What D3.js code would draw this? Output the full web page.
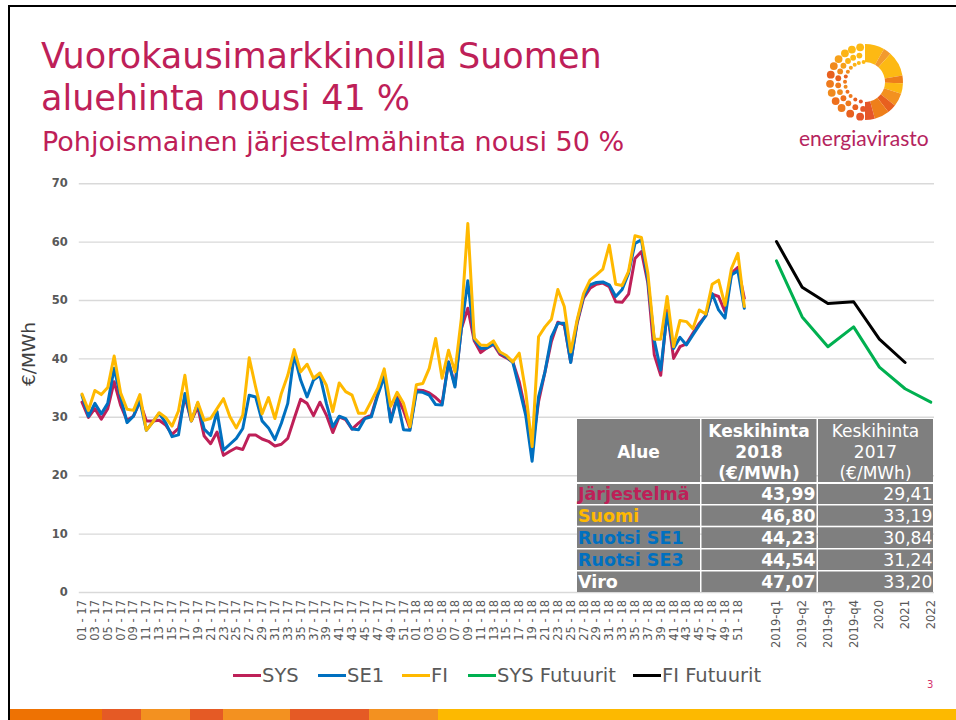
<!DOCTYPE html>
<html>
<head>
<meta charset="utf-8">
<script src="https://cdnjs.cloudflare.com/ajax/libs/d3/7.8.5/d3.min.js"></script>
<style>
html,body{margin:0;padding:0;background:#fff;overflow:hidden}
svg{display:block}
text{font-family:"DejaVu Sans",Verdana,sans-serif}
</style>
</head>
<body>
<svg id="c" width="956" height="720"></svg>
<script>
const weekLabels = ["01 - 17","02 - 17","03 - 17","04 - 17","05 - 17","06 - 17","07 - 17","08 - 17","09 - 17","10 - 17","11 - 17","12 - 17","13 - 17","14 - 17","15 - 17","16 - 17","17 - 17","18 - 17","19 - 17","20 - 17","21 - 17","22 - 17","23 - 17","24 - 17","25 - 17","26 - 17","27 - 17","28 - 17","29 - 17","30 - 17","31 - 17","32 - 17","33 - 17","34 - 17","35 - 17","36 - 17","37 - 17","38 - 17","39 - 17","40 - 17","41 - 17","42 - 17","43 - 17","44 - 17","45 - 17","46 - 17","47 - 17","48 - 17","49 - 17","50 - 17","51 - 17","52 - 17",
"01 - 18","02 - 18","03 - 18","04 - 18","05 - 18","06 - 18","07 - 18","08 - 18","09 - 18","10 - 18","11 - 18","12 - 18","13 - 18","14 - 18","15 - 18","16 - 18","17 - 18","18 - 18","19 - 18","20 - 18","21 - 18","22 - 18","23 - 18","24 - 18","25 - 18","26 - 18","27 - 18","28 - 18","29 - 18","30 - 18","31 - 18","32 - 18","33 - 18","34 - 18","35 - 18","36 - 18","37 - 18","38 - 18","39 - 18","40 - 18","41 - 18","42 - 18","43 - 18","44 - 18","45 - 18","46 - 18","47 - 18","48 - 18","49 - 18","50 - 18","51 - 18","52 - 18"];
const gapSlots = ["g1","g2","g3","g4"];
const futureLabels = ["2019-q1","2019-q2","2019-q3","2019-q4","2020","2021","2022"];
const futureSpacers = ["s1","s2","s3"];

const sys = [32.5,29.9,31.4,29.6,31.4,36,32,29.4,30.1,32.6,29.3,29.3,29.4,28.6,27,28,33.4,29.3,31.7,26.7,25.4,27.4,23.4,24.1,24.7,24.4,26.9,26.9,26.2,25.8,25,25.3,26.3,29.7,33,32.3,30.2,32.5,30.3,27.3,30,29.5,27.9,28.9,29.8,30.3,34,37.7,29.4,33.4,31.1,28,34.6,34.5,34.1,33.3,32.3,39.4,35.4,45.1,48.6,43,41,41.8,42.4,40.7,40.1,39.4,36,30.9,24.6,32.6,37.7,42.9,46.2,45.7,39.4,46,50.3,52,52.7,52.9,52.3,49.7,49.6,51,57.1,58.3,52.9,40.6,37.1,48.3,40,42,42.5,44.3,46,47.3,51,50.6,48,54.6,55.6,50.3];
const se1 = [33.7,30.1,32.3,30.5,32.3,38.3,33.4,29,30.1,32.7,27.7,29.1,30.6,29,26.6,26.9,34,29.3,32.3,27.9,26.8,30.9,24.3,25.3,26.3,28,33.7,33.4,29.3,28.1,26.1,28.9,32.3,40.6,36.3,33.4,36.3,37.1,32.3,28.3,30.1,29.7,27.9,27.8,29.7,30,33.7,36.9,29.1,33.1,27.8,27.7,34.3,34.2,33.7,32.1,32,39.4,35.1,45.1,53.3,43.3,41.7,41.8,42.6,41,40.3,39.3,34.9,30.3,22.4,33.4,37.7,43.7,46,46,39.3,46.3,50.6,52.6,53,53.1,52.6,50.6,51.8,54.6,59.7,60.3,53.4,43.1,38,47.7,41.7,43.6,42.3,44,45.7,47.3,51.1,48.3,46.9,54.3,55,48.6];
const fi = [33.9,31.1,34.5,33.8,35,40.4,34.1,31.3,31.1,33.8,27.7,29.1,30.7,29.9,28.4,31,37.1,29.3,32.5,29.4,29.7,31.4,33.1,30,28.1,30.3,40.1,35.1,30.5,33.3,29.7,34,37.1,41.5,37.7,39,36.6,37.5,35.4,30.9,35.8,34.3,33.7,30.6,30.6,32.7,34.9,38.2,31.8,34.2,32.3,28.3,35.5,35.7,38.3,43.4,36.6,41.4,37.7,46.9,63.1,43.5,42.3,42.2,43,41.1,40.5,39.4,40.9,34.3,24.9,43.7,45.4,46.7,51.8,48.9,41.1,46.6,51.1,53.4,54.3,55.3,59.4,52.7,52.5,54.9,61,60.7,54.6,43.3,43.3,50.6,42,46.5,46.3,45.1,48.3,47.6,52.7,53.4,49.1,55.4,58,48.9];
const sysFutures = [56.7,47.1,42,45.4,38.5,34.8,32.5];
const fiFutures = [60,52.2,49.4,49.7,43.3,39.3];

const yTicks = [0,10,20,30,40,50,60,70];
const tableHead = [["Alue"],["Keskihinta","2018","(€/MWh)"],["Keskihinta","2017","(€/MWh)"]];
const regions = ["Järjestelmä","Suomi","Ruotsi SE1","Ruotsi SE3","Viro"];
const regionColors = ["#BE2058","#FFB900","#0070C0","#0070C0","#ffffff"];
const price2018 = ["43,99","46,80","44,23","44,54","47,07"];
const price2017 = ["29,41","33,19","30,84","31,24","33,20"];
const legendNames = ["SYS","SE1","FI","SYS Futuurit","FI Futuurit"];
const legendColors = ["#BE2058","#0070C0","#FFB900","#00B050","#000000"];
const legendLineX = [233,318,402,468,633];
const barSegments = [[10,102,"#EE7203"],[102,141,"#E55A25"],[141,190,"#F39120"],[190,223,"#E55A25"],[223,290,"#F39120"],[290,369,"#E55A25"],[369,438,"#F39120"],[438,956,"#FDB900"]];
const logoArcs = [[0,30,"#FDB913"],[30,42,"#F29A2E"],[42,80,"#FDB913"],[80,92,"#EE7F1A"],[92,108,"#FDB913"],[108,128,"#F39120"],[128,142,"#E8601F"],[142,165,"#EE7F1A"],[165,180,"#E5562A"]];
const logoDotAngles = [-8,-22,-35,-49,-63,-78,-93,-108,-123,-138,-155,-172];
const logoDotColors = ["#FDB913","#FDB913","#FCB316","#F7A11B","#F08A1D","#E8601F","#EE7A1D","#F08A1D","#EE6F1C","#EE7A1D","#E8601F","#E5562A"];

const svg = d3.select("#c");

// slide frame
svg.append("rect").attr("x",8).attr("y",5).attr("width",2).attr("height",715).attr("fill","#000");
svg.append("rect").attr("x",8).attr("y",5).attr("width",948).attr("height",2).attr("fill","#000");
svg.selectAll(".seg").data(barSegments).join("rect").attr("class","seg")
  .attr("x",d=>d[0]).attr("y",709).attr("width",d=>d[1]-d[0]).attr("height",11).attr("fill",d=>d[2]);

// titles
const titleColor = "#BE2058";
svg.append("text").attr("x",41).attr("y",68).attr("font-size",35).attr("fill",titleColor).text("Vuorokausimarkkinoilla Suomen");
svg.append("text").attr("x",41).attr("y",110).attr("font-size",35).attr("fill",titleColor).text("aluehinta nousi 41 %");
svg.append("text").attr("x",42).attr("y",151).attr("font-size",27).attr("fill",titleColor).text("Pohjoismainen järjestelmähinta nousi 50 %");

// logo
const lx = 865, ly = 82;
const arc = d3.arc().innerRadius(20).outerRadius(38);
const logo = svg.append("g").attr("transform",`translate(${lx},${ly})`);
logo.selectAll(".a").data(logoArcs).join("path").attr("class","a")
  .attr("d",d=>arc({startAngle:d[0]*Math.PI/180,endAngle:d[1]*Math.PI/180})).attr("fill",d=>d[2]);
[[35,3.9,0],[27,2.9,-4],[20,2,4]].forEach(([r,s,off])=>{
  logo.selectAll(".d"+r).data(logoDotAngles).join("circle").attr("class","d"+r)
    .attr("cx",a=>r*Math.sin((a+off)*Math.PI/180)).attr("cy",a=>-r*Math.cos((a+off)*Math.PI/180))
    .attr("r",s).attr("fill",(a,i)=>logoDotColors[i]);
});
svg.append("text").attr("x",799).attr("y",146).attr("font-size",21).attr("fill","#B5245E")
  .style("font-family","Lato").text("energiavirasto");

// scales
const slots = weekLabels.concat(gapSlots, futureLabels.flatMap((d,i)=> i<6 ? [d].concat(futureSpacers.map(s=>s+i)) : [d]));
const x = d3.scaleBand().domain(slots).range([78.8,934]).padding(0);
const y = d3.scaleLinear().domain([0,70]).range([592,183.2]);
const cx = k => x(k)+x.bandwidth()/2;

// axes
const yAxis = svg.append("g").attr("transform","translate(78.8,0)")
  .call(d3.axisLeft(y).tickValues(yTicks).tickSize(-855.2).tickPadding(11));
yAxis.select(".domain").remove();
yAxis.selectAll("line").attr("stroke","#D9D9D9").attr("stroke-width",1.4);
yAxis.selectAll("text").attr("font-size",11.5).attr("font-weight","bold").attr("fill","#595959")
  .style("font-family","'DejaVu Sans'");

const xTicks = weekLabels.filter((d,i)=>i%2===0).concat(futureLabels);
const xAxis = svg.append("g").attr("transform","translate(0,592)")
  .call(d3.axisBottom(x).tickValues(xTicks).tickSize(0));
xAxis.select(".domain").remove();
xAxis.selectAll("text").attr("font-size",11.5).attr("fill","#595959")
  .style("font-family","'DejaVu Sans'")
  .attr("transform",d=>`translate(${0},8) rotate(-90)`)
  .attr("text-anchor","end").attr("x",0).attr("y",0).attr("dy","0.35em");

svg.append("text").attr("transform","translate(35,354) rotate(-90)").attr("text-anchor","middle")
  .attr("font-size",18.5).attr("fill","#404040").text("€/MWh");

// lines
const lineG = d3.line().x(d=>cx(d.k)).y(d=>y(d.v));
const seriesDefs = [
  [sys,weekLabels,"#BE2058"],[se1,weekLabels,"#0070C0"],[fi,weekLabels,"#FFB900"],
  [sysFutures,futureLabels,"#00B050"],[fiFutures,futureLabels,"#000000"]];
seriesDefs.forEach(([vals,keys,col])=>{
  svg.append("path").attr("fill","none").attr("stroke",col).attr("stroke-width",3)
    .attr("stroke-linejoin","round").attr("stroke-linecap","round")
    .attr("d",lineG(vals.map((v,i)=>({k:keys[i],v}))));
});

// legend
const lg = svg.append("g");
legendNames.forEach((n,i)=>{
  lg.append("line").attr("x1",legendLineX[i]).attr("x2",legendLineX[i]+28).attr("y1",675.5).attr("y2",675.5)
    .attr("stroke",legendColors[i]).attr("stroke-width",3);
  lg.append("text").attr("x",legendLineX[i]+29).attr("y",682).attr("font-size",19.5).attr("fill","#595959").text(n);
});

// table
const colX = [[577,700],[701.5,816.5],[818,933]];
const rowY = [[484,504],[505.5,525.7],[527.3,548],[549.5,570],[571.5,592]];
const tg = svg.append("g");
colX.forEach(([a,b],ci)=>{
  tg.append("rect").attr("x",a).attr("y",419).attr("width",b-a).attr("height",63).attr("fill","#7F7F7F");
  const lines = tableHead[ci];
  const start = lines.length===1 ? 457.5 : 437;
  lines.forEach((t,li)=>{
    tg.append("text").attr("x",(a+b)/2).attr("y",start+li*20.8).attr("text-anchor","middle")
      .attr("font-size",17).attr("fill","#fff").attr("font-weight",ci===2?"normal":"bold").text(t);
  });
  rowY.forEach(([t,bt])=>{
    tg.append("rect").attr("x",a).attr("y",t).attr("width",b-a).attr("height",bt-t).attr("fill","#7F7F7F");
  });
});
regions.forEach((r,i)=>{
  const base = rowY[i][1]-4;
  tg.append("text").attr("x",578).attr("y",base).attr("font-size",17.5).attr("font-weight","bold").attr("fill",regionColors[i]).text(r);
  tg.append("text").attr("x",815.5).attr("y",base).attr("text-anchor","end").attr("font-size",17.2).attr("font-weight","bold").attr("fill","#fff").text(price2018[i]);
  tg.append("text").attr("x",932.5).attr("y",base).attr("text-anchor","end").attr("font-size",17.2).attr("fill","#fff").text(price2017[i]);
});

svg.append("text").attr("x",927).attr("y",688).attr("font-size",10).attr("fill","#D6336C").text("3");
</script>
</body>
</html>
